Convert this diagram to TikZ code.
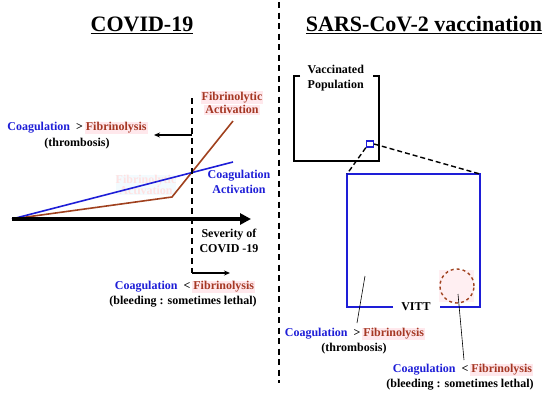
\documentclass[tikz,border=0pt]{standalone}
\usepackage{fontspec}
\setmainfont{Liberation Serif}
\usetikzlibrary{arrows.meta}
\definecolor{cblue}{RGB}{30,30,215}
\definecolor{fibtxt}{RGB}{165,55,35}
\definecolor{fibbg}{RGB}{255,232,236}
\definecolor{brownline}{RGB}{160,65,30}
\newcommand\fibbox[1]{{\setlength{\fboxsep}{1pt}\colorbox{fibbg}{\color{fibtxt}#1}}}
\newcommand\coagfib[1]{{\color{cblue}Coagulation}\enspace#1\,\fibbox{Fibrinolysis}}
\begin{document}
\begin{tikzpicture}[x=1pt,y=-1pt,
  lbl/.style={font=\bfseries\fontsize{12}{14.5}\selectfont, inner sep=0pt, align=center},
  ttl/.style={font=\bfseries\fontsize{22}{24}\selectfont, inner sep=0pt},
  divline/.style={line width=2pt, dash pattern=on 6pt off 4.5pt},
  guide/.style={line width=1.5pt, dash pattern=on 6pt off 4pt},
  zoomline/.style={line width=1.4pt, dash pattern=on 5pt off 3pt}]
\useasboundingbox (0,0) rectangle (550,397);
% divider
\coordinate (dtop) at (279,2);
\coordinate (dbot) at (279,383);
\draw[divline] (dtop) -- (dbot);
% titles
\node[ttl] (t1) at (142,25) {\underline{COVID-19}};
\node[ttl] (t2) at (424,25) {\underline{SARS-CoV-2 vaccination}};

% ---------- left panel ----------
% ghost label
\node[lbl, text=pink!45!white, fill=cyan!8, fill opacity=0.6, text opacity=1] (ghost) at (146,185) {Fibrinolytic\\[-3pt]Activation};
\coordinate (o) at (12,219);
\coordinate (xend) at (251,219);
\coordinate (bend) at (233,162);
\coordinate (knee) at (172,197);
\coordinate (rend) at (233,121);
\draw[line width=1.6pt, brownline] (o) -- (knee) -- (rend);
\draw[line width=1.6pt, cblue] (o) -- (bend);
\draw[line width=3.5pt, -{Triangle[length=11pt,width=11pt]}] (o) -- (xend);
% dashed guide
\coordinate (gtop) at (192,98);
\coordinate (gbot) at (192,273);
\coordinate (gmid) at (192,135);
\coordinate (gl) at (154,135);
\coordinate (gr) at (230,273);
\draw[guide] (gtop) -- (gbot);
\draw[line width=1.2pt, -{Stealth[length=6pt,width=5pt]}] (gmid) -- (gl);
\draw[line width=1.2pt, -{Stealth[length=6pt,width=5pt]}] (gbot) -- (gr);
% labels
\node[lbl] (fa) at (232,103) {\fibbox{Fibrinolytic}\\[-1pt]\fibbox{Activation}};
\node[lbl, text=cblue] (ca) at (239,182) {Coagulation\\Activation};
\node[lbl] (sev) at (229,241) {Severity of\\COVID -19};
\node[lbl] (lt1) at (77.5,128) {\coagfib{>}};
\node[lbl] (lt2) at (77,144) {(thrombosis)};
\node[lbl] (lb1) at (185,287) {\coagfib{<}};
\node[lbl] (lb2) at (183,302) {(bleeding : sometimes lethal)};

% ---------- right panel ----------
\coordinate (p1) at (300,76);
\coordinate (p2) at (294,76);
\coordinate (p3) at (294,161);
\coordinate (p4) at (379,161);
\coordinate (p5) at (379,76);
\coordinate (p6) at (373,76);
\draw[line width=1.4pt] (p1) -- (p2) -- (p3) -- (p4) -- (p5) -- (p6);
\node[lbl, align=left, anchor=west] (vp) at (307.5,78) {Vaccinated\\Population};
% small square
\node[draw=cblue, line width=1.3pt, minimum width=7pt, minimum height=6pt, inner sep=0pt] (sq) at (370,144) {};
% big box
\coordinate (b1) at (393,307);
\coordinate (b2) at (347,307);
\coordinate (b3) at (347,174);
\coordinate (b4) at (480,174);
\coordinate (b5) at (480,307);
\coordinate (b6) at (440,307);
\draw[cblue, line width=1.6pt] (b1) -- (b2) -- (b3) -- (b4) -- (b5) -- (b6);
\draw[zoomline] (sq.south west) -- (b3);
\draw[zoomline] (sq.east) -- (b4);
\node[lbl] (vitt) at (416,307) {VITT};
% circle
\fill[fibbg!70] (439,270) rectangle (474,302);
\node[circle, draw=brownline, dashed, line width=1.4pt, minimum size=34pt, inner sep=0pt] (circ) at (457,286) {};
% pointer lines
\coordinate (pt1) at (365,276);
\coordinate (pe1) at (357,323);
\coordinate (pt2) at (458,294);
\coordinate (pe2) at (464,360);
\draw[line width=0.6pt] (pt1) -- (pe1);
\draw[line width=0.6pt] (pt2) -- (pe2);
\node[lbl] (rt1) at (355,334) {\coagfib{>}};
\node[lbl] (rt2) at (354,349) {(thrombosis)};
\node[lbl] (rb1) at (463,370) {\coagfib{<}};
\node[lbl] (rb2) at (460,385) {(bleeding : sometimes lethal)};
\end{tikzpicture}
\end{document}
